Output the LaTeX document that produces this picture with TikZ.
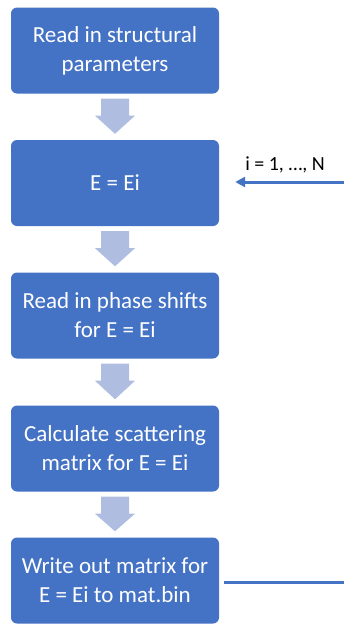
\documentclass[tikz,border=0pt]{standalone}
\usepackage{fontspec}
\setmainfont{Carlito}
\usetikzlibrary{arrows.meta,calc}
\definecolor{boxblue}{HTML}{4472C4}
\definecolor{arrowblue}{HTML}{AFBEE0}
\tikzset{
  stepbox/.style={draw=none, fill=boxblue, rounded corners=6pt, minimum width=208pt, minimum height=86pt,
    text=white, align=center, font=\fontsize{23}{29}\selectfont, inner sep=0pt},
  blockarrow/.style={fill=arrowblue, draw=none},
  flowline/.style={draw=boxblue, line width=3pt},
}
\newcommand\mydownarrow[2]{%
  \fill[blockarrow] ($(#1.south)+(-14pt,-5pt)$) -- ($(#1.south)+(14pt,-5pt)$) -- ($(#1.south)+(14pt,-22pt)$)
    -- ($(#1.south)+(20pt,-22pt)$) -- ($(#2.north)+(0,6pt)$) -- ($(#1.south)+(-20pt,-22pt)$)
    -- ($(#1.south)+(-14pt,-22pt)$) -- cycle;}
\begin{document}
\begin{tikzpicture}[x=1pt,y=1pt]
\useasboundingbox (0,0) rectangle (344,-624);
\node[stepbox] (read) at (115,-50.5) {Read in structural\\parameters};
\node[stepbox] (energy) at (115,-183) {E = Ei};
\node[stepbox] (phase) at (115,-315.5) {Read in phase shifts\\for E = Ei};
\node[stepbox] (calc) at (115,-448.5) {Calculate scattering\\matrix for E = Ei};
\node[stepbox] (write) at (115,-580.5) {Write out matrix for\\E = Ei to mat.bin};
\mydownarrow{read}{energy}
\mydownarrow{energy}{phase}
\mydownarrow{phase}{calc}
\mydownarrow{calc}{write}
\coordinate (loopin) at (344,-182);
\coordinate (loopout) at (344,-582);
\draw[flowline, -{Triangle[length=10pt,width=10pt]}, shorten >=16pt] (loopin) -- (energy.east |- loopin);
\draw[flowline, shorten <=5pt] (write.east |- loopout) -- (loopout);
\node[font=\fontsize{20}{24}\selectfont, text=black] (loopl) at (285,-165) {i = 1, …, N};
\end{tikzpicture}
\end{document}
